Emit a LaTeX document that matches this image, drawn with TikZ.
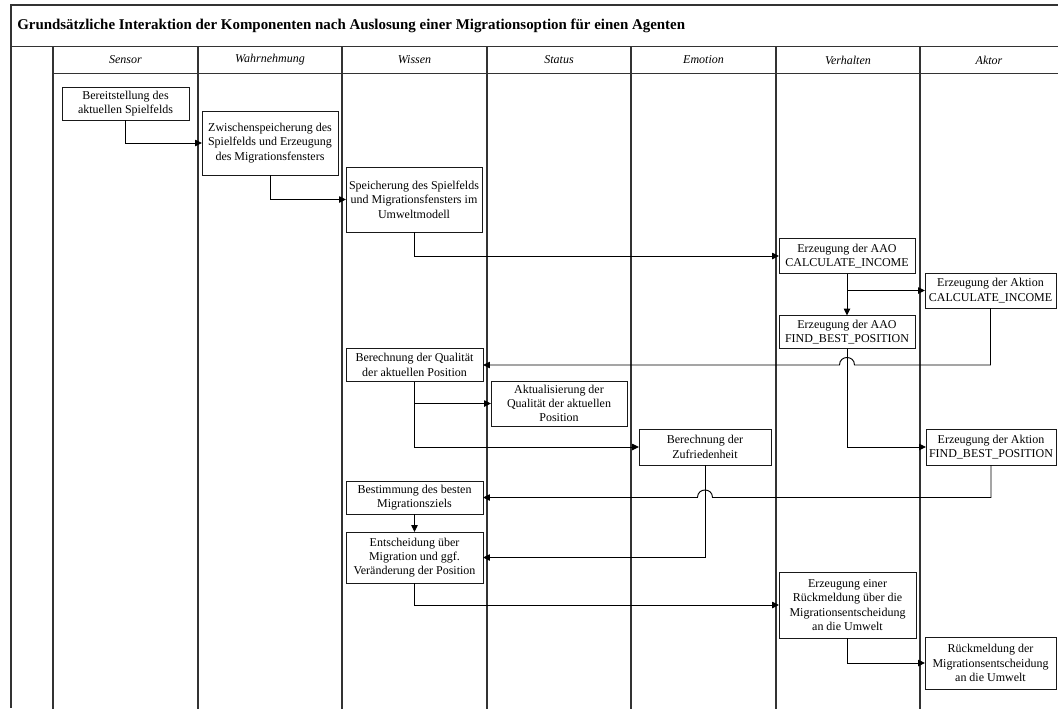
\documentclass[tikz,border=0pt]{standalone}
\usepackage{fontspec}
\setmainfont{Liberation Serif}
\usetikzlibrary{arrows.meta,calc}
\begin{document}
\begin{tikzpicture}[x=0.75pt,y=-0.75pt,
  lane/.style={draw=black!80,line width=1pt},
  box/.style={draw=black!90,line width=0.7pt,fill=white,inner sep=0pt,outer sep=0pt,align=center,
    font=\fontsize{9pt}{10.75pt}\selectfont},
  sz/.style 2 args={minimum width=#1*0.75pt,minimum height=#2*0.75pt},
  hdr/.style={font=\fontsize{9pt}{10.75pt}\selectfont\itshape,inner sep=0pt},
  arr/.style={draw=black,line width=0.7pt,-{Triangle[length=5.2pt,width=4.8pt]}}]
\useasboundingbox (0,0) rectangle (1058,708);
% frame and lanes
\draw[lane] (11,708) -- (11,5) -- (1060,5);
\draw[lane] (11,46.5) -- (1060,46.5);
\draw[lane] (53,73.5) -- (1060,73.5);
\foreach \xx in {53,198,342,487,631,776,920}{\draw[lane] (\xx,46.5) -- (\xx,710);}
\node[anchor=west,inner sep=0pt,font=\fontsize{11.2pt}{13pt}\selectfont\bfseries] (title) at (17,26)
  {Grundsätzliche Interaktion der Komponenten nach Auslosung einer Migrationsoption für einen Agenten};
\node[hdr] (h1) at (125.5,60) {Sensor};
\node[hdr] (h2) at (270,60) {Wahrnehmung};
\node[hdr] (h3) at (414.5,60) {Wissen};
\node[hdr] (h4) at (559,60) {Status};
\node[hdr] (h5) at (703.5,60) {Emotion};
\node[hdr] (h6) at (848,60) {Verhalten};
\node[hdr] (h7) at (989,60) {Aktor};
% boxes
\node[box,sz={127}{33}] (b1) at (125.5,103.5) {Bereitstellung des\\aktuellen Spielfelds};
\node[box,sz={136}{64}] (b2) at (270,143) {Zwischenspeicherung des\\Spielfelds und Erzeugung\\des Migrationsfensters};
\node[box,sz={136}{65}] (b3) at (414,199.5) {Speicherung des Spielfelds\\und Migrationsfensters im\\Umweltmodell};
\node[box,sz={136}{35}] (b4) at (847,256) {Erzeugung der AAO\\CALCULATE\_INCOME};
\node[box,sz={131}{35}] (b5) at (990.5,290.5) {Erzeugung der Aktion\\CALCULATE\_INCOME};
\node[box,sz={136}{33}] (b6) at (847,332) {Erzeugung der AAO\\FIND\_BEST\_POSITION};
\node[box,sz={137}{33}] (b7) at (414.5,365) {Berechnung der Qualität\\der aktuellen Position};
\node[box,sz={136}{45}] (b8) at (559,403.5) {Aktualisierung der\\Qualität der aktuellen\\Position};
\node[box,sz={132}{36}] (b9) at (705,447) {Berechnung der\\Zufriedenheit};
\node[box,sz={130}{36}] (b10) at (991,447) {Erzeugung der Aktion\\FIND\_BEST\_POSITION};
\node[box,sz={137}{33}] (b11) at (414.5,497.5) {Bestimmung des besten\\Migrationsziels};
\node[box,sz={137}{51}] (b12) at (414.5,557.5) {Entscheidung über\\Migration und ggf.\\Veränderung der Position};
\node[box,sz={137}{66}] (b13) at (847.5,605) {Erzeugung einer\\Rückmeldung über die\\Migrationsentscheidung\\an die Umwelt};
\node[box,sz={131}{52}] (b14) at (990.5,663) {Rückmeldung der\\Migrationsentscheidung\\an die Umwelt};
% jump coordinates
\coordinate (ja) at ($(b6.south |- b7.east)+(7.5,0)$);
\coordinate (jb) at ($(b6.south |- b7.east)+(-7.5,0)$);
\coordinate (jc) at ($(b9.south |- b11.east)+(7.5,0)$);
\coordinate (jd) at ($(b9.south |- b11.east)+(-7.5,0)$);
% connectors
\draw[arr] (b1.south) |- (b2.west);
\draw[arr] (b2.south) |- (b3.west);
\draw[arr] (b3.south) |- (b4.west);
\draw[arr] (b4.south) |- (b5.west);
\draw[arr] (b4.south) -- (b6.north);
\draw[arr] (b5.south) |- (ja) .. controls ($(ja)+(0,-10)$) and ($(jb)+(0,-10)$) .. (jb) -- (b7.east);
\draw[arr] (b6.south) |- (b10.west);
\draw[arr] (b7.south) |- (b8.west);
\draw[arr] (b7.south) |- (b9.west);
\draw[arr] (b10.south) |- (jc) .. controls ($(jc)+(0,-10)$) and ($(jd)+(0,-10)$) .. (jd) -- (b11.east);
\draw[arr] (b11.south) -- (b12.north);
\draw[arr] (b9.south) |- (b12.east);
\draw[arr] (b12.south) |- (b13.west);
\draw[arr] (b13.south) |- (b14.west);
\end{tikzpicture}
\end{document}
